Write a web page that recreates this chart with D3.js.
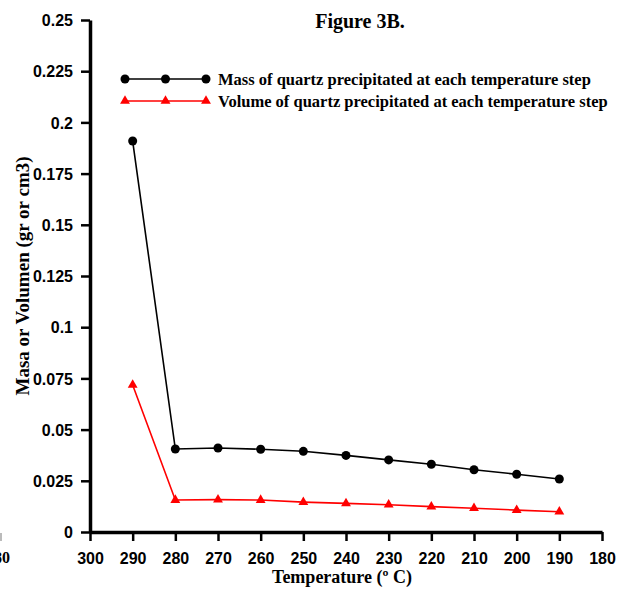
<!DOCTYPE html>
<html>
<head>
<meta charset="utf-8">
<script src="https://cdn.jsdelivr.net/npm/d3@7"></script>
<style>
  body { margin: 0; background: #fff; }
  svg { font-family: "Liberation Serif", "Times New Roman", serif; font-weight: bold; }
  .axis path, .axis line { stroke: #000; }
  .axis text { font-size: 16px; font-weight: bold; fill: #000; }
</style>
</head>
<body>
<div id="chart-area"></div>
<script>
const temperatures = [290, 280, 270, 260, 250, 240, 230, 220, 210, 200, 190];
const massValues = [0.1909, 0.0405, 0.041, 0.0404, 0.0394, 0.0374, 0.0352, 0.0331, 0.0304, 0.0282, 0.0259];
const volumeValues = [0.0718, 0.0156, 0.0158, 0.0156, 0.0146, 0.014, 0.0133, 0.0124, 0.0116, 0.0107, 0.0099];
const xTicks = [300, 290, 280, 270, 260, 250, 240, 230, 220, 210, 200, 190, 180];
const yTicks = [0, 0.025, 0.05, 0.075, 0.1, 0.125, 0.15, 0.175, 0.2, 0.225, 0.25];
const seriesNames = [
  "Mass of quartz precipitated at each temperature step",
  "Volume of quartz precipitated at each temperature step"
];

const chartSize = { width: 623, height: 591 };

const svg = d3.select("#chart-area")
  .append("svg")
  .attr("width", chartSize.width)
  .attr("height", chartSize.height);

const x = d3.scaleLinear().domain([300, 180]).range([90, 602]);
const y = d3.scaleLinear().domain([0, 0.25]).range([532, 20]);

// stray fragment of the neighbouring figure at the left edge
svg.append("text")
  .attr("x", 10).attr("y", 563)
  .attr("text-anchor", "end")
  .attr("font-size", 16)
  .attr("fill", "#000")
  .text("180");
svg.append("line")
  .attr("x1", 1).attr("x2", 1).attr("y1", 533).attr("y2", 541)
  .attr("stroke", "#bbb").attr("stroke-width", 2);

const xAxis = d3.axisBottom(x)
  .tickValues(xTicks)
  .tickFormat(d3.format("d"))
  .tickSize(9)
  .tickSizeOuter(0)
  .tickPadding(12);

const yAxis = d3.axisLeft(y)
  .tickValues(yTicks)
  .tickFormat(d => d === 0 ? "0" : String(+d.toFixed(3)))
  .tickSize(9)
  .tickSizeOuter(0)
  .tickPadding(8);

const gx = svg.append("g")
  .attr("class", "axis x-axis")
  .attr("transform", `translate(0,${y(0)})`)
  .call(xAxis);
gx.select(".domain").attr("stroke-width", 3.5);
gx.selectAll(".tick line").attr("stroke-width", 2.5);

const gy = svg.append("g")
  .attr("class", "axis y-axis")
  .attr("transform", `translate(${x(300)},0)`)
  .call(yAxis);
gy.select(".domain").attr("stroke-width", 3.5);
gy.selectAll(".tick line").attr("stroke-width", 2.5);
gy.selectAll(".tick text").attr("dy", "0.35em");

// titles
svg.append("text")
  .attr("x", 360).attr("y", 28)
  .attr("text-anchor", "middle")
  .attr("font-size", 20)
  .text("Figure 3B.");

svg.append("text")
  .attr("x", 342).attr("y", 583)
  .attr("text-anchor", "middle")
  .attr("font-size", 18)
  .text("Temperature (º C)");

svg.append("text")
  .attr("transform", "rotate(-90)")
  .attr("x", -276).attr("y", 29)
  .attr("text-anchor", "middle")
  .attr("font-size", 19)
  .text("Masa or Volumen (gr or cm3)");

const line = d3.line()
  .x(d => x(d.t))
  .y(d => y(d.v));

const massData = temperatures.map((t, i) => ({ t, v: massValues[i] }));
const volumeData = temperatures.map((t, i) => ({ t, v: volumeValues[i] }));

const triangle = d3.symbol().type(d3.symbolTriangle).size(42);

// volume series (red triangles)
svg.append("path")
  .attr("d", line(volumeData))
  .attr("fill", "none")
  .attr("stroke", "#ff0000")
  .attr("stroke-width", 1.6);
svg.selectAll(".vol-pt")
  .data(volumeData)
  .join("path")
  .attr("class", "vol-pt")
  .attr("d", triangle)
  .attr("transform", d => `translate(${x(d.t)},${y(d.v)})`)
  .attr("fill", "#ff0000");

// mass series (black circles)
svg.append("path")
  .attr("d", line(massData))
  .attr("fill", "none")
  .attr("stroke", "#000")
  .attr("stroke-width", 1.6);
svg.selectAll(".mass-pt")
  .data(massData)
  .join("circle")
  .attr("class", "mass-pt")
  .attr("cx", d => x(d.t))
  .attr("cy", d => y(d.v))
  .attr("r", 4.5)
  .attr("fill", "#000");

// legend
const legend = svg.append("g").attr("class", "legend");
const legendRows = [
  { name: seriesNames[0], color: "#000", marker: "circle", yPos: 79 },
  { name: seriesNames[1], color: "#ff0000", marker: "triangle", yPos: 101 }
];
const markerXs = [125, 165.5, 206];

legendRows.forEach(row => {
  legend.append("line")
    .attr("x1", markerXs[0]).attr("x2", markerXs[2])
    .attr("y1", row.yPos).attr("y2", row.yPos)
    .attr("stroke", row.color)
    .attr("stroke-width", 1.6);
  markerXs.forEach(mx => {
    if (row.marker === "circle") {
      legend.append("circle")
        .attr("cx", mx).attr("cy", row.yPos).attr("r", 4.5)
        .attr("fill", row.color);
    } else {
      legend.append("path")
        .attr("d", triangle())
        .attr("transform", `translate(${mx},${row.yPos})`)
        .attr("fill", row.color);
    }
  });
  legend.append("text")
    .attr("x", 218).attr("y", row.yPos + 5.5)
    .attr("font-size", 16.5)
    .text(row.name);
});
</script>
</body>
</html>
